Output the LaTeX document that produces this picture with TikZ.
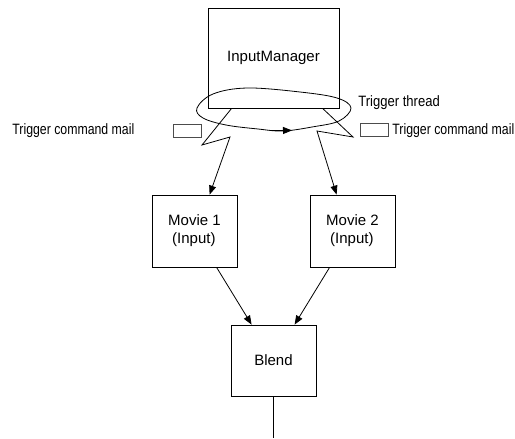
\documentclass[tikz,border=0pt]{standalone}
\usepackage{fontspec}
\setmainfont{Liberation Sans}
\usetikzlibrary{arrows.meta,calc}
\begin{document}
\begin{tikzpicture}[x=1pt,y=-1pt,line width=0.8pt,
  every node/.style={font=\fontsize{15}{18}\selectfont},
  box/.style={draw,inner sep=0pt},
  mailbox/.style={draw=black!70,inner sep=0pt,minimum width=28pt,minimum height=13pt},
  tip/.style={-{Triangle[length=9pt,width=7pt]}}]
\useasboundingbox (0,0) rectangle (515,439);

% components
\node[box,minimum width=131pt,minimum height=100pt] (im) at (273.5,58) {InputManager};
\node[box,minimum width=85pt,minimum height=72pt,align=left] (movie1) at (194.5,231) {Movie 1\\\hspace{4pt}(Input)};
\node[box,minimum width=85pt,minimum height=72pt,align=left] (movie2) at (352.5,231) {Movie 2\\\hspace{4pt}(Input)};
\node[box,minimum width=85pt,minimum height=71pt] (blend) at (273.5,360.5) {Blend};
\coordinate (out) at (273.5,438);

% trigger thread loop
\draw plot[smooth cycle,tension=0.6] coordinates {(197,108) (213,94) (247,88) (300,92) (337,98) (351,108) (339,121) (312,127) (283,131) (258,129) (226,125) (203,118)};
\coordinate (loopA) at (272,130.6);
\coordinate (loopB) at (292,130.4);
\draw[tip] (loopA) -- (loopB);

% mail boxes and labels
\node[mailbox] (mailL) at (187.5,130.5) {};
\node[mailbox] (mailR) at (374.5,130) {};
\node[anchor=west,inner sep=0pt] (lblL) at (12,131) {\scalebox{0.82}[1]{Trigger command mail}};
\node[anchor=west,inner sep=0pt] (lblR) at (392,131) {\scalebox{0.82}[1]{Trigger command mail}};
\node[anchor=west,inner sep=0pt] (lblT) at (358,103) {\scalebox{0.87}[1]{Trigger thread}};

% trigger bolts
\coordinate (b1) at (202,145);
\coordinate (b2) at (230,137);
\coordinate (b3) at (353,137);
\coordinate (b4) at (317,131);
\draw[tip] ($(im.south west)+(24,0)$) -- (b1) -- (b2) -- ($(movie1.north west)+(58,0)$);
\draw[tip] ($(im.south west)+(115,0)$) -- (b3) -- (b4) -- ($(movie2.north west)+(27,0)$);

% data flow
\draw[tip] ($(movie1.south west)+(65,0)$) -- ($(blend.north west)+(21,0)$);
\draw[tip] ($(movie2.south west)+(20,0)$) -- ($(blend.north west)+(64,0)$);
\draw (blend.south) -- (out);
\end{tikzpicture}
\end{document}
